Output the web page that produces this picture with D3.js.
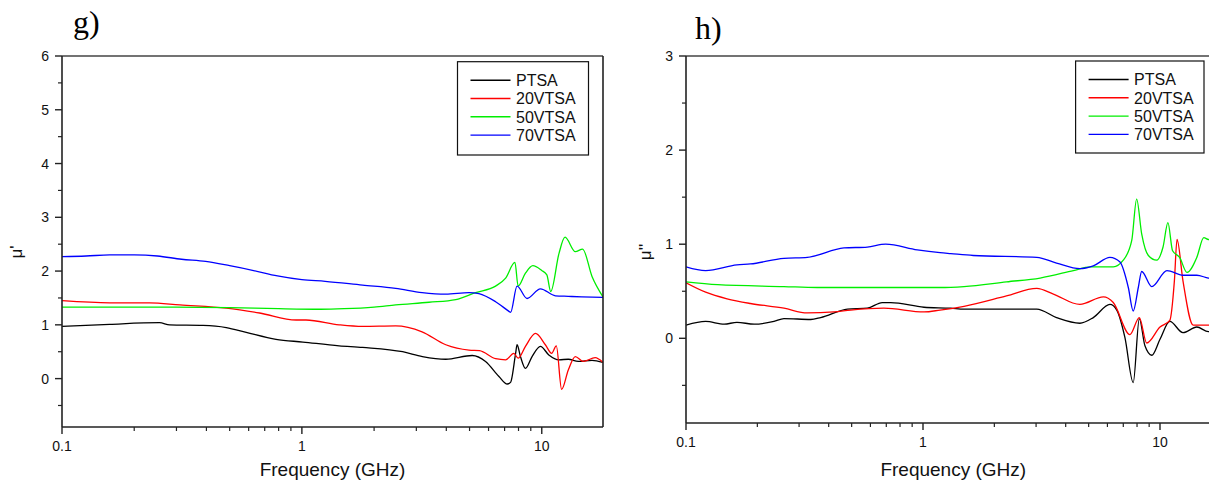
<!DOCTYPE html>
<html><head><meta charset="utf-8">
<script src="https://cdn.jsdelivr.net/npm/d3@7"></script>
<style>body{margin:0;background:#fff}svg{display:block}</style>
</head><body>
<svg id="c" width="1209" height="484"></svg>
<script>
// ---------- data ----------
const seriesNames = ["PTSA", "20VTSA", "50VTSA", "70VTSA"];
const seriesColors = ["#000000", "#ff0000", "#00ee00", "#0000ff"];
const xTickValues = [0.1, 1, 10];
const xTickLabels = ["0.1", "1", "10"];
const xMinorValues = [0.2,0.3,0.4,0.5,0.6,0.7,0.8,0.9,2,3,4,5,6,7,8,9];
const gYTickValues = [0, 1, 2, 3, 4, 5, 6];
const gYMinorValues = [-0.5, 0.5, 1.5, 2.5, 3.5, 4.5, 5.5];
const hYTickValues = [0, 1, 2, 3];
const hYMinorValues = [-0.5, 0.5, 1.5, 2.5];

// g) mu'  [frequency GHz, value]
const gPTSA = [[0.1,0.97],[0.158,1.01],[0.255,1.04],[0.281,1.00],[0.387,0.99],[0.484,0.95],[0.586,0.86],[0.78,0.73],[1.01,0.68],[1.43,0.61],[1.79,0.58],[2.63,0.50],[3.18,0.41],[3.98,0.36],[5.13,0.43],[5.83,0.32],[6.63,0.04],[7.18,-0.10],[7.41,-0.07],[7.78,0.47],[7.89,0.63],[8.15,0.41],[8.55,0.19],[9.11,0.41],[9.87,0.60],[10.7,0.44],[11.8,0.35],[12.9,0.36],[14.2,0.32],[16.2,0.34],[18,0.30]];
const g20VTSA = [[0.1,1.45],[0.158,1.41],[0.232,1.41],[0.31,1.37],[0.484,1.31],[0.666,1.22],[0.946,1.09],[1.04,1.09],[1.43,1.00],[1.79,0.97],[2.46,0.98],[3.17,0.87],[3.98,0.63],[4.97,0.53],[5.5,0.52],[6.42,0.37],[7.07,0.35],[7.65,0.47],[7.97,0.38],[8.55,0.60],[9.42,0.84],[10.35,0.63],[11.0,0.47],[11.5,0.61],[12.1,-0.20],[12.9,0.16],[13.8,0.41],[14.9,0.32],[16.7,0.39],[18,0.30]];
const g50VTSA = [[0.1,1.33],[0.3,1.33],[0.5,1.32],[0.8,1.30],[1.2,1.29],[1.5,1.30],[2.0,1.33],[2.46,1.37],[3.39,1.42],[4.38,1.47],[5.30,1.60],[6.42,1.72],[7.07,1.87],[7.73,2.16],[7.97,1.72],[8.55,1.96],[9.18,2.10],[10.0,2.01],[10.5,1.93],[10.9,1.62],[11.8,2.33],[12.5,2.63],[13.8,2.36],[14.8,2.41],[16.2,1.90],[18,1.52]];
const g70VTSA = [[0.1,2.27],[0.126,2.28],[0.158,2.30],[0.2,2.30],[0.25,2.28],[0.315,2.22],[0.397,2.18],[0.5,2.10],[0.629,2.01],[0.791,1.91],[1.0,1.84],[1.25,1.81],[1.79,1.74],[2.46,1.68],[3.17,1.60],[3.98,1.57],[4.97,1.60],[5.47,1.58],[6.42,1.43],[7.30,1.25],[7.41,1.23],[7.89,1.72],[8.68,1.49],[9.87,1.67],[11.4,1.54],[12.9,1.53],[14.7,1.52],[18,1.51]];

// h) mu''
const hPTSA = [[0.1,0.14],[0.121,0.18],[0.145,0.15],[0.164,0.17],[0.194,0.15],[0.235,0.18],[0.259,0.21],[0.336,0.20],[0.370,0.22],[0.480,0.31],[0.582,0.32],[0.673,0.38],[0.731,0.38],[1.01,0.33],[1.31,0.32],[1.49,0.31],[3.02,0.31],[3.66,0.22],[4.59,0.16],[5.23,0.22],[6.15,0.36],[6.57,0.30],[7.11,0.01],[7.71,-0.47],[8.18,0.21],[8.64,-0.08],[9.23,-0.18],[10.0,-0.01],[11.0,0.18],[12.5,0.06],[14.3,0.12],[16.0,0.07],[18,0.08]];
const h20VTSA = [[0.1,0.59],[0.121,0.49],[0.149,0.42],[0.187,0.37],[0.259,0.32],[0.325,0.27],[0.421,0.28],[0.495,0.30],[0.684,0.32],[1.01,0.28],[1.18,0.30],[1.49,0.34],[2.25,0.45],[3.02,0.53],[3.55,0.47],[4.59,0.36],[5.77,0.44],[6.35,0.38],[7.47,0.04],[8.18,0.22],[8.79,-0.05],[10.0,0.12],[11.0,0.19],[11.5,0.61],[11.8,1.05],[12.5,0.61],[13.8,0.14],[16.0,0.14],[18,0.14]];
const h50VTSA = [[0.1,0.60],[0.136,0.57],[0.259,0.55],[0.358,0.54],[0.684,0.54],[0.946,0.54],[1.18,0.54],[1.49,0.55],[2.25,0.60],[3.12,0.64],[4.31,0.72],[5.07,0.76],[6.35,0.76],[7.00,0.83],[7.60,1.04],[7.97,1.48],[8.37,1.11],[8.93,0.88],[9.68,0.83],[10.3,0.97],[10.8,1.23],[11.3,0.93],[12.1,0.86],[13.0,0.70],[14.3,0.86],[15.3,1.07],[16.0,1.05],[18,1.04]];
const h70VTSA = [[0.1,0.76],[0.121,0.72],[0.164,0.78],[0.187,0.79],[0.259,0.85],[0.325,0.86],[0.464,0.96],[0.582,0.97],[0.696,1.00],[0.946,0.94],[1.18,0.91],[1.31,0.90],[1.63,0.88],[3.02,0.86],[3.66,0.80],[4.59,0.74],[5.23,0.77],[6.15,0.86],[6.78,0.81],[7.35,0.54],[7.71,0.29],[8.10,0.54],[8.37,0.71],[9.23,0.55],[10.7,0.72],[12.5,0.67],[14.3,0.67],[16.0,0.64],[18,0.63]];

// ---------- drawing ----------
const svg = d3.select("#c");
const FONT = "'Liberation Sans', Arial, sans-serif";

function panel(cfg) {
  const x = d3.scaleLog().domain([0.1, 18]).range([cfg.left, cfg.right]);
  const y = d3.scaleLinear().domain(cfg.yDomain).range([cfg.bottom, cfg.top]);
  const g = svg.append("g");
  const clipId = "clip" + cfg.id;
  svg.append("clipPath").attr("id", clipId).append("rect")
    .attr("x", cfg.left).attr("y", cfg.top)
    .attr("width", cfg.right - cfg.left).attr("height", cfg.bottom - cfg.top);

  const line = d3.line().x(d => x(d[0])).y(d => y(d[1])).curve(d3.curveMonotoneX);
  const lines = g.append("g").attr("clip-path", `url(#${clipId})`);
  cfg.series.forEach((s, i) => {
    lines.append("path").datum(s).attr("d", line)
      .attr("fill", "none").attr("stroke", seriesColors[i]).attr("stroke-width", 1.3)
      .attr("stroke-linejoin", "round");
  });

  // frame
  const axisColor = "#222";
  g.append("line").attr("x1", cfg.left).attr("x2", cfg.right).attr("y1", cfg.top).attr("y2", cfg.top)
    .attr("stroke", "#444").attr("stroke-width", 1.6);
  g.append("line").attr("x1", cfg.right).attr("x2", cfg.right).attr("y1", cfg.top).attr("y2", cfg.bottom)
    .attr("stroke", axisColor).attr("stroke-width", 1.6);
  g.append("line").attr("x1", cfg.left).attr("x2", cfg.right).attr("y1", cfg.bottom).attr("y2", cfg.bottom)
    .attr("stroke", axisColor).attr("stroke-width", 1.6);
  g.append("line").attr("x1", cfg.left).attr("x2", cfg.left).attr("y1", cfg.top).attr("y2", cfg.bottom)
    .attr("stroke", axisColor).attr("stroke-width", 1.6);

  // x ticks
  xTickValues.forEach((v, i) => {
    g.append("line").attr("x1", x(v)).attr("x2", x(v)).attr("y1", cfg.bottom).attr("y2", cfg.bottom + 7)
      .attr("stroke", axisColor).attr("stroke-width", 1.4);
    g.append("text").attr("x", x(v)).attr("y", cfg.bottom + 24).attr("text-anchor", "middle")
      .attr("font-family", FONT).attr("font-size", 14).attr("fill", "#111").text(xTickLabels[i]);
  });
  xMinorValues.forEach(v => {
    g.append("line").attr("x1", x(v)).attr("x2", x(v)).attr("y1", cfg.bottom).attr("y2", cfg.bottom + 4)
      .attr("stroke", axisColor).attr("stroke-width", 1.2);
  });
  // y ticks
  cfg.yTicks.forEach(v => {
    g.append("line").attr("x1", cfg.left - 7).attr("x2", cfg.left).attr("y1", y(v)).attr("y2", y(v))
      .attr("stroke", axisColor).attr("stroke-width", 1.4);
    g.append("text").attr("x", cfg.left - 13).attr("y", y(v)).attr("dy", "0.36em").attr("text-anchor", "end")
      .attr("font-family", FONT).attr("font-size", 14).attr("fill", "#111").text(String(v));
  });
  cfg.yMinor.forEach(v => {
    g.append("line").attr("x1", cfg.left - 4).attr("x2", cfg.left).attr("y1", y(v)).attr("y2", y(v))
      .attr("stroke", axisColor).attr("stroke-width", 1.2);
  });

  // titles
  g.append("text").attr("x", (cfg.left + cfg.right) / 2).attr("y", 476).attr("text-anchor", "middle")
    .attr("font-family", FONT).attr("font-size", 19).attr("fill", "#111").text("Frequency (GHz)");
  g.append("text").attr("transform", `translate(${cfg.yTitleX},252) rotate(-90)`).attr("text-anchor", "middle")
    .attr("font-family", FONT).attr("font-size", 17).attr("fill", "#111").text(cfg.yTitle);
  g.append("text").attr("x", cfg.labelX).attr("y", cfg.labelY)
    .attr("font-family", "'Liberation Serif', 'Times New Roman', serif").attr("font-size", 32).attr("fill", "#000")
    .text(cfg.label);

  // legend
  const L = cfg.legend;
  g.append("rect").attr("x", L.x).attr("y", L.y).attr("width", L.w).attr("height", L.h)
    .attr("fill", "#fff").attr("stroke", "#111").attr("stroke-width", 1.2);
  seriesNames.forEach((n, i) => {
    const yy = L.y + 18.5 + i * 18.3;
    g.append("line").attr("x1", L.x + 13).attr("x2", L.x + 53).attr("y1", yy).attr("y2", yy)
      .attr("stroke", seriesColors[i]).attr("stroke-width", 1.4);
    g.append("text").attr("x", L.x + 58.5).attr("y", yy).attr("dy", "0.36em")
      .attr("font-family", FONT).attr("font-size", 16).attr("fill", "#111").text(n);
  });
}

panel({
  id: "g", left: 62, right: 603, top: 56, bottom: 427, yDomain: [-0.9, 6],
  yTicks: gYTickValues, yMinor: gYMinorValues, yTitle: "μ'", yTitleX: 22,
  label: "g)", labelX: 73, labelY: 33,
  legend: { x: 457.5, y: 61.7, w: 131, h: 93.3 },
  series: [gPTSA, g20VTSA, g50VTSA, g70VTSA]
});
panel({
  id: "h", left: 686, right: 1220.5, top: 56, bottom: 423, yDomain: [-0.9, 3],
  yTicks: hYTickValues, yMinor: hYMinorValues, yTitle: "μ''", yTitleX: 650.5,
  label: "h)", labelX: 695, labelY: 39,
  legend: { x: 1075.6, y: 61, w: 128.4, h: 92 },
  series: [hPTSA, h20VTSA, h50VTSA, h70VTSA]
});
</script>
</body></html>
